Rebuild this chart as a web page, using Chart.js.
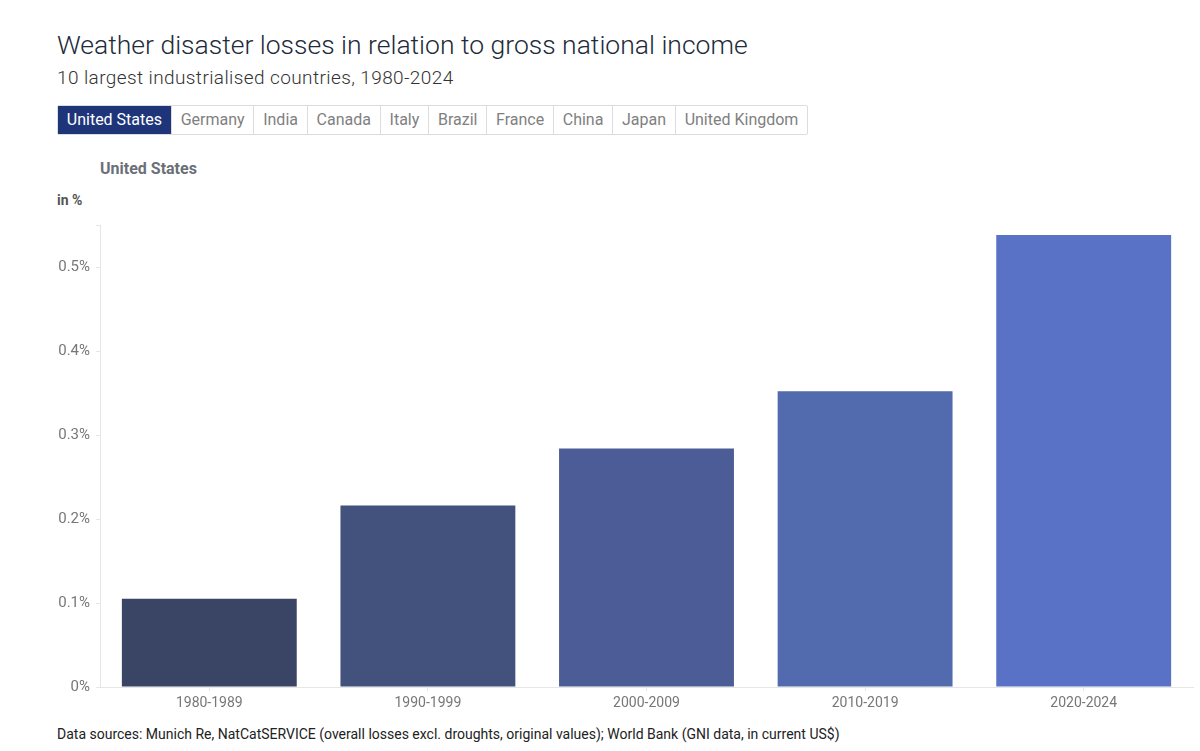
<!DOCTYPE html>
<html>
<head>
<meta charset="utf-8">
<script src="https://cdn.jsdelivr.net/npm/chart.js@4/dist/chart.umd.min.js"></script>
<style>
  body { margin: 0; background: #fff; font-family: Roboto, "Noto Sans", sans-serif; }
  #title { position: absolute; left: 57px; top: 29px; font-size: 26.5px; font-weight: 300; color: #222a3a; }
  #subtitle { position: absolute; left: 57px; top: 66px; font-size: 19px; font-weight: 300; color: #333; letter-spacing: 0.4px; }
  #tabs { position: absolute; left: 57px; top: 105px; display: flex; border: 1px solid #dcdcdc; border-radius: 2px; }
  #tabs div { height: 28px; line-height: 28px; padding: 0 8.8px; font-size: 16px; color: #808080; border-left: 1px solid #dcdcdc; }
  #tabs div:first-child { border-left: none; }
  #tabs div.active { background: #1f3579; color: #fff; }
  #country { position: absolute; left: 100px; top: 159px; font-size: 16px; font-weight: bold; color: #6b6f78; }
  #unit { position: absolute; left: 57px; top: 192px; font-size: 14px; font-weight: bold; color: #555; }
  #wrap { position: absolute; left: 0; top: 210px; width: 1200px; height: 515px; }
  #footer { position: absolute; left: 57px; top: 726px; font-size: 14px; color: #222; }
</style>
</head>
<body>
<div id="title">Weather disaster losses in relation to gross national income</div>
<div id="subtitle">10 largest industrialised countries, 1980-2024</div>
<div id="tabs"></div>
<div id="country">United States</div>
<div id="unit">in %</div>
<div id="wrap"><canvas id="chart"></canvas></div>
<div id="footer">Data sources: Munich Re, NatCatSERVICE (overall losses excl. droughts, original values); World Bank (GNI data, in current US$)</div>
<script>
const countries = ["United States", "Germany", "India", "Canada", "Italy", "Brazil", "France", "China", "Japan", "United Kingdom"];
const periods = ["1980-1989", "1990-1999", "2000-2009", "2010-2019", "2020-2024"];
const lossShare = [0.105, 0.216, 0.284, 0.352, 0.538];
const barColors = ["#3a4465", "#43527c", "#4b5c96", "#526aae", "#5a72c6"];

const tabs = document.getElementById("tabs");
countries.forEach((c, i) => {
  const d = document.createElement("div");
  d.textContent = c;
  if (i === 0) d.className = "active";
  tabs.appendChild(d);
});

const ctx = document.getElementById("chart");
new Chart(ctx, {
  type: "bar",
  data: {
    labels: periods,
    datasets: [{
      data: lossShare,
      backgroundColor: barColors,
      barPercentage: 0.8,
      categoryPercentage: 1.0,
    }],
  },
  options: {
    responsive: true,
    maintainAspectRatio: false,
    animation: false,
    layout: { padding: { left: 40, right: 7, top: 13, bottom: 0 } },
    plugins: { legend: { display: false }, tooltip: { enabled: false } },
    scales: {
      x: {
        grid: { offset: false, drawOnChartArea: false, drawTicks: true, tickLength: 4, color: "#e6e6e6" },
        border: { display: true, color: "#e6e6e6" },
        ticks: { color: "#777", font: { family: "Roboto", size: 14 }, padding: 4, maxRotation: 0 },
        afterFit: (s) => { s.height = 38; },
      },
      y: {
        min: 0,
        max: 0.55,
        grid: { drawOnChartArea: false, drawTicks: true, tickLength: 4, color: "#e6e6e6" },
        border: { display: true, color: "#e6e6e6" },
        ticks: {
          stepSize: 0.1,
          color: "#777",
          font: { family: "Roboto", size: 15 },
          padding: 6,
          callback: (v) => (v > 0.5 + 1e-9 ? "" : (Math.round(v * 10) / 10) + "%"),
        },
        afterFit: (s) => { s.width = 60; },
      },
    },
  },
});
</script>
</body>
</html>
